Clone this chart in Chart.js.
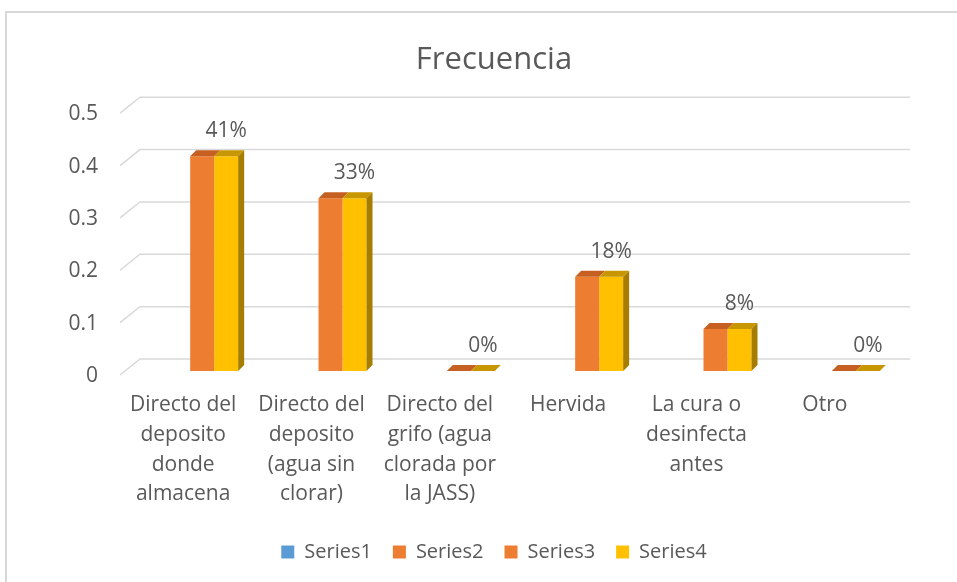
<!DOCTYPE html>
<html>
<head>
<meta charset="utf-8">
<title>Frecuencia</title>
<script src="https://cdn.jsdelivr.net/npm/chart.js@4.4.1/dist/chart.umd.min.js"></script>
<style>
  html, body { margin: 0; padding: 0; background: #fff; }
  #wrap { width: 957px; height: 582px; }
</style>
</head>
<body>
<div id="wrap"><canvas id="chart"></canvas></div>
<script>
const categories = [
  ["Directo del", "deposito", "donde", "almacena"],
  ["Directo del", "deposito", "(agua sin", "clorar)"],
  ["Directo del", "grifo (agua", "clorada por", "la JASS)"],
  ["Hervida"],
  ["La cura o", "desinfecta", "antes"],
  ["Otro"],
];
const seriesNames = ["Series1", "Series2", "Series3", "Series4"];
const series1 = [null, null, null, null, null, null];
const series2 = [null, null, null, null, null, null];
const series3 = [0.41, 0.33, 0, 0.18, 0.08, 0];
const series4 = [0.41, 0.33, 0, 0.18, 0.08, 0];
const yTicks = [0, 0.1, 0.2, 0.3, 0.4, 0.5];

const textColor = "#595959";
const font = "'Open Sans', sans-serif";

// frame, back wall gridlines, 3d faces and value labels
const excelLook = {
  id: "excelLook",
  beforeDraw(chart) {
    const ctx = chart.ctx;
    ctx.save();
    ctx.fillStyle = "#fff";
    ctx.fillRect(0, 0, chart.width, chart.height);
    ctx.strokeStyle = "#d9d9d9";
    ctx.lineWidth = 2;
    ctx.beginPath();
    ctx.moveTo(6, chart.height);
    ctx.lineTo(6, 12);
    ctx.lineTo(chart.width, 12);
    ctx.stroke();
    ctx.restore();
  },
  beforeDatasetsDraw(chart) {
    const ctx = chart.ctx;
    const area = chart.chartArea;
    const y = chart.scales.y;
    ctx.save();
    ctx.strokeStyle = "#d9d9d9";
    ctx.lineWidth = 1.5;
    y.ticks.forEach((t) => {
      const py = y.getPixelForValue(t.value);
      ctx.beginPath();
      ctx.moveTo(area.left - 30, py + 4);
      ctx.lineTo(area.left - 10, py - 12);
      ctx.lineTo(area.right - 10, py - 12);
      ctx.stroke();
    });
    ctx.restore();
  },
  afterDatasetsDraw(chart) {
    const ctx = chart.ctx;
    const dx = 6;
    const dy = 6;
    const topColors = ["#4a7fb0", "#c65f22", "#c65f22", "#c89600"];
    const sideColors = ["#3f6f9c", "#a9511c", "#a9511c", "#a67d00"];
    ctx.save();
    chart.data.datasets.forEach((ds, i) => {
      const meta = chart.getDatasetMeta(i);
      meta.data.forEach((bar, j) => {
        if (ds.data[j] === null) return;
        const l = bar.x - bar.width / 2;
        const r = bar.x + bar.width / 2;
        ctx.fillStyle = topColors[i];
        ctx.beginPath();
        ctx.moveTo(l, bar.y);
        ctx.lineTo(l + dx, bar.y - dy);
        ctx.lineTo(r + dx, bar.y - dy);
        ctx.lineTo(r, bar.y);
        ctx.closePath();
        ctx.fill();
        if (i === chart.data.datasets.length - 1) {
          ctx.fillStyle = sideColors[i];
          ctx.beginPath();
          ctx.moveTo(r, bar.y);
          ctx.lineTo(r + dx, bar.y - dy);
          ctx.lineTo(r + dx, bar.base - dy);
          ctx.lineTo(r, bar.base);
          ctx.closePath();
          ctx.fill();
        }
      });
    });

    // value labels above the last series
    const last = chart.data.datasets.length - 1;
    const meta = chart.getDatasetMeta(last);
    ctx.fillStyle = textColor;
    ctx.font = "21px " + font;
    ctx.textAlign = "center";
    ctx.textBaseline = "middle";
    meta.data.forEach((bar, j) => {
      const v = chart.data.datasets[last].data[j];
      ctx.fillText(Math.round(v * 100) + "%", bar.x, bar.y - 25);
    });
    ctx.restore();
  },
};

const colors = ["#5b9bd5", "#ed7d31", "#ed7d31", "#ffc000"];
const allSeries = [series1, series2, series3, series4];

new Chart(document.getElementById("chart"), {
  type: "bar",
  data: {
    labels: categories,
    datasets: allSeries.map((values, i) => ({
      label: seriesNames[i],
      data: values,
      backgroundColor: colors[i],
      borderWidth: 0,
      skipNull: true,
      barPercentage: 1,
      categoryPercentage: 0.374,
    })),
  },
  options: {
    responsive: true,
    maintainAspectRatio: false,
    animation: false,
    layout: { padding: { left: 68, right: 37, top: 0, bottom: 10 } },
    plugins: {
      title: {
        display: true,
        text: "Frecuencia",
        color: textColor,
        font: { family: font, size: 31, weight: "normal" },
        padding: { top: 42, bottom: 30 },
      },
      legend: {
        position: "bottom",
        labels: {
          color: textColor,
          font: { family: font, size: 20 },
          boxWidth: 13,
          boxHeight: 13,
          padding: 21,
        },
      },
      tooltip: { enabled: false },
    },
    scales: {
      x: {
        grid: { display: false, drawTicks: false },
        border: { display: false },
        ticks: {
          color: textColor,
          font: { family: font, size: 21, lineHeight: 1.42 },
          autoSkip: false,
          maxRotation: 0,
          padding: 19,
          labelOffset: -31,
        },
        afterFit(scale) {
          scale.height = 150;
        },
      },
      y: {
        min: 0,
        max: 0.5,
        grid: { display: false, drawTicks: false },
        border: { display: false },
        ticks: {
          color: textColor,
          font: { family: font, size: 21 },
          padding: 52,
          labelOffset: 5,
          callback: (v) => String(v),
        },
        afterBuildTicks(scale) {
          scale.ticks = yTicks.map((v) => ({ value: v }));
        },
        afterFit(scale) {
          scale.width = 82;
        },
      },
    },
  },
  plugins: [excelLook],
});
</script>
</body>
</html>
